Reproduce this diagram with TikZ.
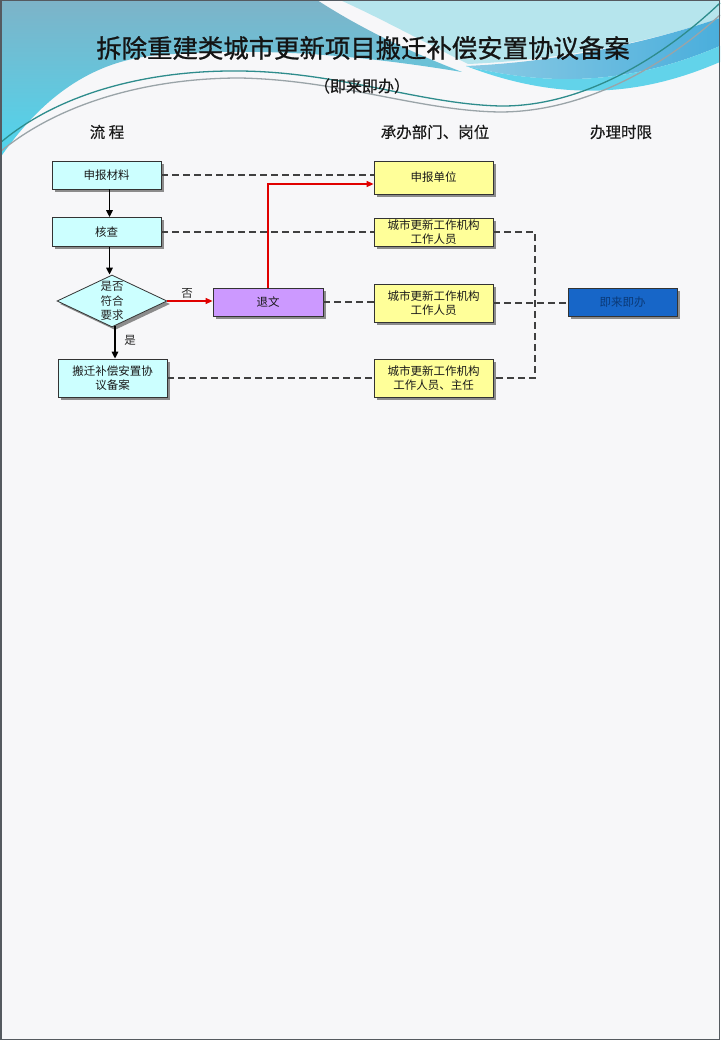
\documentclass[tikz,border=0pt]{standalone}
\usepackage{fontspec}
\setmainfont{Noto Sans CJK SC}
\newfontfamily\titlefont[FakeBold=0.9]{Noto Sans CJK SC}
\newfontfamily\hdrfont[FakeBold=0.4]{Noto Sans CJK SC}
\usetikzlibrary{shapes.geometric,shadows,arrows.meta,calc}
\definecolor{pagebg}{HTML}{F7F7F9}
\definecolor{frame}{HTML}{555A60}
\definecolor{steel}{HTML}{7DB3C8}
\definecolor{cyanlow}{HTML}{4FD6EE}
\definecolor{lightcy}{HTML}{B6E5ED}
\definecolor{midblue}{HTML}{8CCBE4}
\definecolor{deepblue}{HTML}{4AAEDC}
\definecolor{bandcy}{HTML}{62D3EA}
\definecolor{teal}{HTML}{2E8C8C}
\definecolor{grayline}{HTML}{9AA4A8}
\definecolor{cyanf}{HTML}{CCFFFF}
\definecolor{yellowf}{HTML}{FFFF99}
\definecolor{purplef}{HTML}{CC99FF}
\definecolor{bluef}{HTML}{1766C8}
\definecolor{bluetext}{HTML}{0B3A78}
\definecolor{redline}{HTML}{E00000}
\newcommand\boxfont{\fontsize{11.5}{14.5}\selectfont}
\begin{document}
\begin{tikzpicture}[x=1pt,y=-1pt,
  box/.style={draw=black!80, line width=0.8pt, align=center, font=\boxfont, text=black!90,
    inner sep=1pt, drop shadow={shadow xshift=3pt, shadow yshift=-3pt, fill=black!45, opacity=1}},
  cyanbox/.style={box, fill=cyanf},
  yellowbox/.style={box, fill=yellowf},
  purplebox/.style={box, fill=purplef},
  bluebox/.style={box, fill=bluef, text=bluetext},
  dashconn/.style={draw=black!75, line width=1.2pt, dash pattern=on 7pt off 4pt},
  flowarrow/.style={draw=black, line width=1.5pt, -{Triangle[length=7pt,width=6.5pt]}},
  redarrow/.style={draw=redline, line width=1.2pt, -{Triangle[length=7pt,width=6pt]}},
  hdr/.style={font=\hdrfont\fontsize{15.5}{18}\selectfont, text=black!90},
  lbl/.style={font=\boxfont, text=black!85}
]
\useasboundingbox (0,0) rectangle (720,1040);
\fill[pagebg] (0,0) rectangle (720,1040);

% ---- top decoration ----
\fill[lightcy] (340,0) -- (720,0) -- (720,18)
  .. controls (650,42) and (560,60) .. (468,64)
  .. controls (420,40) and (380,18) .. (340,0) -- cycle;
\shade[top color=steel, bottom color=cyanlow]
  (0,0) -- (317,0) .. controls (360,28) and (410,52) .. (462,72)
  .. controls (340,52) and (250,48) .. (160,55)
  .. controls (90,60) and (40,100) .. (0,158) -- cycle;
\shade[left color=midblue, right color=deepblue]
  (466,66) .. controls (560,62) and (650,42) .. (720,18)
  -- (720,46) .. controls (650,76) and (570,92) .. (466,66) -- cycle;
\fill[bandcy]
  (466,66) .. controls (570,92) and (650,76) .. (720,46)
  -- (720,62) .. controls (650,92) and (570,106) .. (466,66) -- cycle;
\draw[teal, line width=1.3pt]
  (0,143) .. controls (60,92) and (150,70) .. (240,71)
  .. controls (340,72) and (420,104) .. (500,106)
  .. controls (580,107) and (660,60) .. (720,3);
\draw[grayline, line width=1.3pt]
  (0,152) .. controls (60,102) and (150,78) .. (240,78)
  .. controls (340,80) and (420,111) .. (500,112)
  .. controls (580,112) and (660,70) .. (720,15);
\draw[frame, line width=1.5pt] (0.75,0.75) rectangle (719.25,1039.25);

% ---- titles ----
\node[text=black!92] (title) at (363,48) {\titlefont\fontsize{25.4}{30}\selectfont 拆除重建类城市更新项目搬迁补偿安置协议备案};
\node[text=black!90] (subtitle) at (362,86) {\hdrfont\fontsize{16}{19}\selectfont （即来即办）};
\node[hdr] (h1) at (107,132) {流 程};
\node[hdr] (h2) at (435,132) {承办部门、岗位};
\node[hdr] (h3) at (621,132) {办理时限};

% ---- flow nodes ----
\node[cyanbox, minimum width=109pt, minimum height=28pt] (sb) at (106.5,175) {申报材料};
\node[cyanbox, minimum width=109pt, minimum height=29pt] (hc) at (106.5,232) {核查};
\node[diamond, draw=black!80, line width=0.8pt, fill=cyanf, minimum width=110pt, minimum height=52pt,
  inner sep=0pt, drop shadow={shadow xshift=3pt, shadow yshift=-3pt, fill=black!45, opacity=1}] (dm) at (112,301) {};
\node[lbl, align=center] (dmt) at (dm.center) {是否\\符合\\要求};
\node[purplebox, minimum width=110pt, minimum height=28pt] (tw) at (268,302) {退文};
\node[cyanbox, minimum width=109pt, minimum height=38pt] (ba) at (112.5,378) {搬迁补偿安置协\\议备案};

\node[yellowbox, minimum width=119pt, minimum height=33pt] (dw) at (433.5,177.5) {申报单位};
\node[yellowbox, minimum width=119pt, minimum height=28pt] (g1) at (433.5,232) {城市更新工作机构\\工作人员};
\node[yellowbox, minimum width=119pt, minimum height=38pt] (g2) at (433.5,303) {城市更新工作机构\\工作人员};
\node[yellowbox, minimum width=119pt, minimum height=38pt] (g3) at (433.5,378) {城市更新工作机构\\工作人员、主任};
\node[bluebox, minimum width=109pt, minimum height=28pt] (jb) at (622.5,302) {即来即办};

\coordinate (jn1) at (535,232);
\coordinate (jn3) at (535,378);
\coordinate (ax) at (109.5,0);
\coordinate (dmb) at ($(dm.south)+(3,-1.5)$);

% ---- dashed connectors ----
\draw[dashconn] (sb.east) -- (sb.east -| dw.west);
\draw[dashconn] (hc.east) -- (hc.east -| g1.west);
\draw[dashconn] (tw.east) -- (tw.east -| g2.west);
\draw[dashconn] (ba.east) -- (ba.east -| g3.west);
\draw[dashconn] (g1.east) -- (jn1) -- (jn3) -- (g3.east);
\draw[dashconn] (g2.east) -- (g2.east -| jb.west);

% ---- flow arrows ----
\draw[flowarrow] (sb.south -| ax) -- (hc.north -| ax);
\draw[flowarrow] (hc.south -| ax) -- (dm.north -| ax);
\draw[flowarrow] (dmb) -- (dmb |- ba.north);
\draw[redarrow] (dm.east) -- (dm.east -| tw.west);
\draw[redarrow] (tw.north) |- ($(dw.west)+(0,6.5)$);

\node[lbl] (no) at (187,293) {否};
\node[lbl] (yes) at (130,340) {是};
\end{tikzpicture}
\end{document}
